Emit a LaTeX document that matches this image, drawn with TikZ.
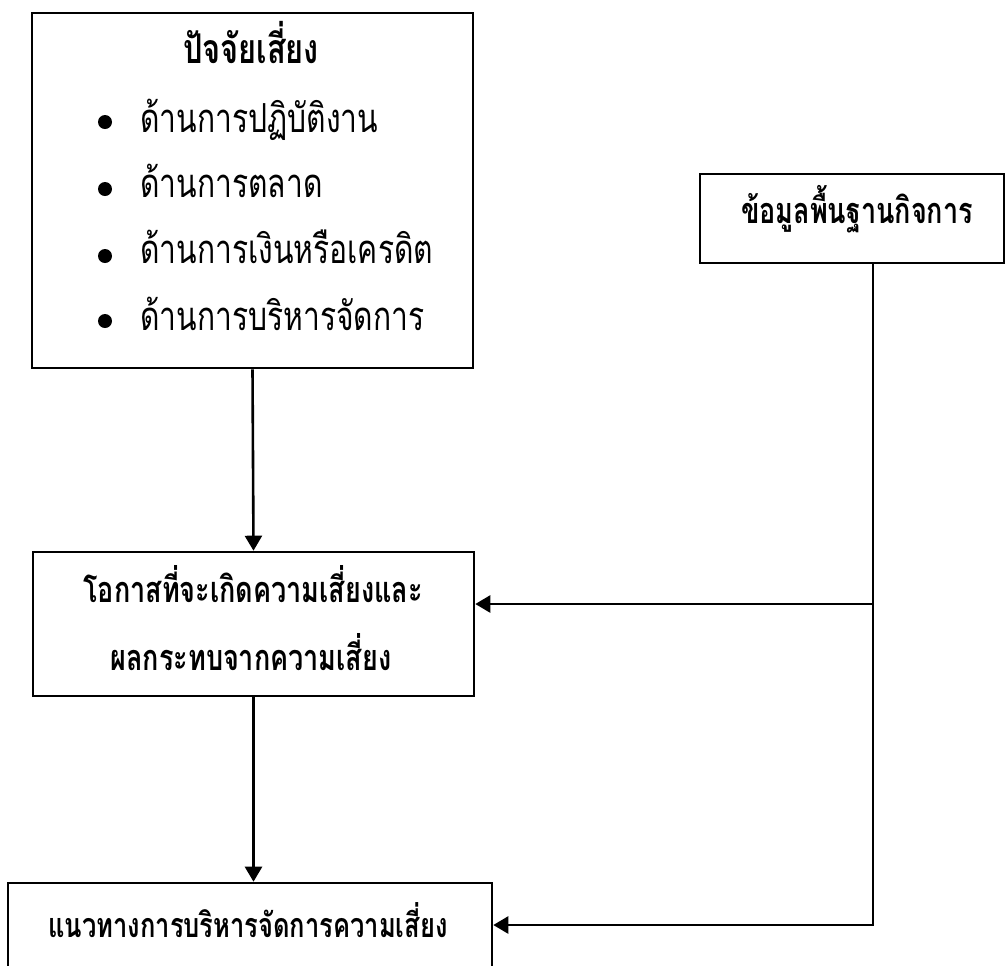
\documentclass[tikz,border=0pt]{standalone}
\usepackage{fontspec}
\newfontfamily\thai[Script=Thai,FakeStretch=0.75]{Loma}
\usetikzlibrary{arrows.meta}
\tikzset{
  box/.style={draw=black, line width=1.3pt, rectangle, inner sep=0pt},
  conn/.style={line width=1.3pt},
  arr/.style={line width=1.3pt, -{Triangle[length=7.5pt,width=8.5pt]}},
  btxt/.style={anchor=base, inner sep=0pt, font=\thai\bfseries\fontsize{18pt}{22pt}\selectfont},
  ttxt/.style={anchor=base, inner sep=0pt, font=\thai\bfseries\fontsize{20.5pt}{24pt}\selectfont},
  ltxt/.style={anchor=base west, inner sep=0pt, font=\thai\fontsize{20pt}{24pt}\selectfont},
  bul/.style={circle, fill=black, inner sep=0pt, minimum size=7pt}
}
\begin{document}
\begin{tikzpicture}[x=0.5pt,y=-0.5pt]
\useasboundingbox (0,0) rectangle (1006,965);
\clip (0,0) rectangle (1006,965);
% boxes
\node[box, minimum width=220.5pt, minimum height=177.5pt] (risk) at (252.5,190.5) {};
\node[box, minimum width=152pt, minimum height=44.5pt] (info) at (852,218.5) {};
\node[box, minimum width=220.5pt, minimum height=72pt] (opp) at (253.5,624) {};
\node[box, minimum width=242pt, minimum height=42pt] (guide) at (250,925) {};
% texts
\node[ttxt] (t1) at (251,63) {ปัจจัยเสี่ยง};
\node[bul] (b1) at (105,122) {};
\node[bul] (b2) at (105,189) {};
\node[bul] (b3) at (105,256) {};
\node[bul] (b4) at (105,321) {};
\node[ltxt] (i1) at (140,132) {ด้านการปฏิบัติงาน};
\node[ltxt] (i2) at (140,197) {ด้านการตลาด};
\node[ltxt] (i3) at (140,263) {ด้านการเงินหรือเครดิต};
\node[ltxt] (i4) at (140,330) {ด้านการบริหารจัดการ};
\node[btxt] (t2) at (857,223) {ข้อมูลพื้นฐานกิจการ};
\node[btxt] (t3) at (253,602) {โอกาสที่จะเกิดความเสี่ยงและ};
\node[btxt] (t4) at (251,670) {ผลกระทบจากความเสี่ยง};
\node[btxt, font=\thai\bfseries\fontsize{17pt}{20pt}\selectfont] (t5) at (248,937) {แนวทางการบริหารจัดการความเสี่ยง};
% connectors
\coordinate (j) at (873,604);
\draw[arr] (risk.south) -- (opp.north);
\draw[arr] (opp.south) -- (opp.south |- guide.north);
\draw[conn] (j |- info.south) -- (j);
\draw[arr] (j) -- (j -| opp.east);
\draw[arr] (j) |- (guide.east);
\end{tikzpicture}
\end{document}
